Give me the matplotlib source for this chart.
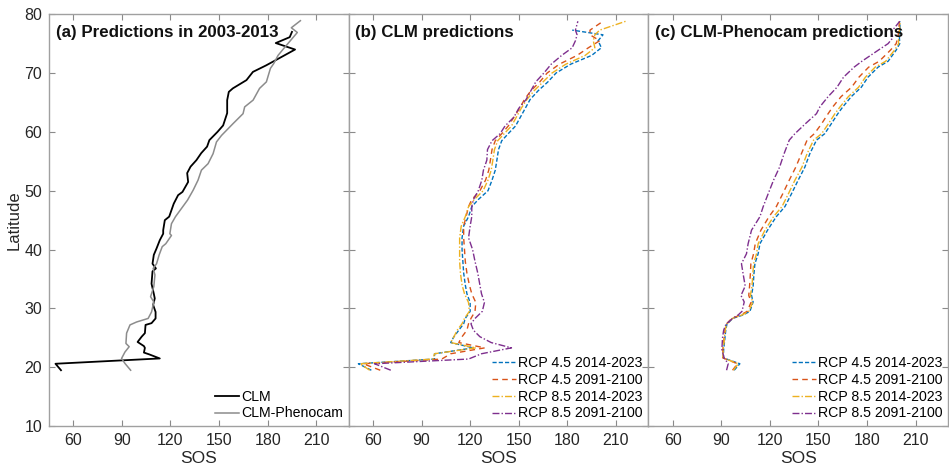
import numpy as np
import matplotlib.pyplot as plt

plt.rcParams['font.family'] = ['Liberation Sans', 'DejaVu Sans']

# (a) 2003-2013
lat_clm = [19.5, 20.6, 21.5, 22.2, 22.5, 23.3, 23.6, 24.05, 24.3, 25.2, 25.8, 27.2, 27.5, 28.3, 29.4,
           30.6, 31.7, 32.5, 34.2, 36.3, 36.8, 37.6, 39.1, 40.2, 41.6, 42.7, 43.3, 45.0, 45.6, 47.8,
           49.25, 49.8, 51.5, 53.0, 54.1, 55.2, 56.4, 57.5, 58.6, 60.0, 61.1, 63.2, 65.4, 66.8, 67.4,
           68.8, 70.2, 71.3, 71.9, 74.0, 75.1, 76.1, 77.0]
sos_clm = [52.4, 49.0, 113.4, 106.8, 103.6, 104.2, 103.6, 101.1, 99.7, 102.2, 104.2, 104.6, 108.3, 110.8, 110.8,
           109.3, 110.3, 109.7, 108.3, 108.9, 111.0, 108.9, 109.7, 111.4, 113.4, 115.5, 115.5, 116.5, 119.2, 122.0,
           124.7, 127.4, 130.9, 130.3, 132.4, 136.0, 139.0, 142.6, 144.0, 149.0, 152.5, 155.0, 155.0, 156.0, 158.5,
           166.9, 170.9, 179.0, 183.0, 196.9, 185.0, 193.6, 195.0]

lat_pheno = [19.5, 20.65, 21.5, 22.6, 23.5, 24.05, 25.8, 27.2, 27.7, 28.3, 29.4, 31.1, 32.0, 33.7, 35.7,
             36.8, 37.6, 39.1, 40.5, 41.0, 42.4, 42.7, 44.4, 45.6, 47.0, 48.4, 50.1, 51.8, 53.5, 54.6,
             56.3, 58.3, 59.4, 61.4, 63.1, 64.25, 65.4, 67.4, 68.5, 70.8, 71.6, 73.0, 74.2, 76.9, 77.7, 78.9]
sos_pheno = [95.4, 91.9, 89.8, 91.9, 94.5, 92.5, 92.9, 95.0, 99.1, 106.2, 108.3, 109.7, 107.7, 109.7, 110.4,
             109.3, 111.4, 113.0, 114.9, 117.1, 120.6, 119.6, 120.6, 123.1, 126.8, 130.5, 134.0, 137.0, 139.1, 143.2,
             146.3, 148.4, 151.5, 158.6, 164.8, 165.8, 171.0, 175.0, 179.2, 181.7, 183.7, 186.4, 190.0, 198.3, 194.6, 200.2]

# (b) CLM predictions
lat_b = [19.5, 20.6, 21.4, 22.3, 23.3, 24.2, 25.2, 26.3, 27.4, 28.3, 29.5, 31.0, 32.5, 34.0, 36.0, 38.0,
         40.0, 42.0, 44.0, 45.6, 47.3, 48.5, 50.0, 51.8, 53.5, 55.2, 57.0, 58.5, 59.7, 61.0, 62.5, 64.0,
         65.5, 67.0, 68.5, 70.0, 71.5, 73.0, 74.3, 75.5, 76.5, 77.3, 78.8]
b45_early = [59, 51, 98, 98, 122, 108, 110, 113, 116, 117, 120, 120, 118, 117, 116, 115.5,
             115, 115, 116, 119, 121, 125, 131, 133.5, 135.5, 136.5, 137.5, 139.5, 143.5, 148, 151, 154,
             157, 162, 168, 173, 182, 195, 201, 199, 202, 183, np.nan]
b45_late = [64.5, 54, 102.5, 108, 129, 113, 115, 118, 119, 120.5, 123, 123.5, 121, 119.5, 118, 117,
            116.5, 116, 116, 117.5, 119, 121, 126, 129.5, 131.5, 132.5, 133.5, 135.5, 139.5, 143.5, 147, 150.5,
            153.5, 157.5, 163, 167.5, 175, 186, 193, 200, 194, 194, 202]
b85_early = [58, 52, 97, 98, 123.5, 108, 110, 112, 115, 116.5, 119.5, 119, 116.5, 115, 114, 113.5,
             113.5, 113.5, 114.5, 117, 119, 122.5, 128, 131, 133, 134, 135, 137, 141, 145.5, 148.5, 151.5,
             155, 159.5, 165, 170.5, 179, 191, 197, 196, 197, 200, 216]
b85_late = [71, 61, 119, 127, 145.5, 133, 126, 122, 120.5, 123, 127.5, 128.8, 127, 126, 124.7, 123,
            121.5, 119, 120, 121, 121, 122, 125, 127.2, 128.2, 130.3, 130.7, 133.5, 138.5, 141.5, 147, 150,
            154.5, 157.5, 160.5, 165.5, 170, 176.5, 183, 185, 186, 185, 186.5]

# (c) CLM-Phenocam predictions
lat_c = [19.5, 20.6, 21.6, 23.0, 25.0, 26.3, 27.3, 28.3, 28.9, 29.5, 31.1, 32.2, 33.8, 35.9, 37.6, 39.3,
         41.0, 43.3, 45.6, 47.3, 49.5, 51.8, 54.0, 56.3, 58.6, 59.7, 61.4, 63.1, 64.3, 66.0, 67.6, 69.3,
         71.0, 72.0, 73.9, 75.0, 76.0, 77.0, 78.8]
c45_early = [98, 101.5, 91.3, 91.5, 92.3, 92.8, 93.5, 97, 103.6, 107.7, 109.7, 108.7, 109.7, 110.2, 110.8, 112.8,
             113.9, 118.6, 124, 129.3, 133.4, 137.5, 141.6, 144.7, 148.8, 153.9, 158, 162, 165.2, 170.3, 176.5, 180.6,
             186.8, 193, 198, 200.2, 200, 200.5, 200.2]
c45_late = [97, 100, 91, 91, 91.8, 92.3, 93, 96.5, 102, 106, 108.5, 107, 107.5, 108, 108.3, 110,
            111, 114.5, 119.5, 124, 128, 132, 136, 139.5, 143, 147.5, 152, 156, 159, 164, 170.5, 175,
            181, 187.5, 194.5, 198, 199, 199.5, 200]
c85_early = [97.5, 100.5, 91, 91.2, 92, 92.5, 93.2, 96.8, 103, 107, 109.5, 108, 109, 109.5, 110, 111.8,
             112.8, 117, 122.3, 127.5, 131.5, 135.5, 139.8, 143, 147, 152, 156.2, 160.2, 163.5, 168.5, 174.8, 179,
             185, 191.5, 197, 199.5, 199.5, 200, 200.5]
c85_late = [93.3, 94.3, 91.8, 90.4, 90.8, 91.5, 92.9, 97, 100.5, 102.8, 104.2, 102.2, 104.8, 103.5, 102.5, 105.6,
            106.6, 108.7, 113.9, 115.9, 119, 122.3, 126, 128.8, 132, 135.5, 142, 148.8, 151, 156, 161.5, 165.5,
            172, 176.8, 187, 193, 196, 195, 200.2]

labels = ['RCP 4.5 2014-2023', 'RCP 4.5 2091-2100', 'RCP 8.5 2014-2023', 'RCP 8.5 2091-2100']
colors = ['#0072BD', '#D95319', '#EDB120', '#7E2F8E']
styles = [(0, (3, 1.5)), (0, (4, 3)), (0, (5, 1.5, 1, 1.5)), (0, (5, 1.5, 1, 1.5))]
titles = ['(a) Predictions in 2003-2013', '(b) CLM predictions', '(c) CLM-Phenocam predictions']

fig = plt.figure(figsize=(9.49, 4.74), dpi=100)
w = (948 - 49) / 949 / 3
axes = [fig.add_axes([49 / 949 + i * w, 0.101, w, 0.869]) for i in range(3)]

ax = axes[0]
ax.plot(sos_clm, lat_clm, color='black', lw=1.3, label='CLM')
ax.plot(sos_pheno, lat_pheno, color='#8c8c8c', lw=1.1, label='CLM-Phenocam')

for ax, lat, series in [(axes[1], lat_b, [b45_early, b45_late, b85_early, b85_late]),
                        (axes[2], lat_c, [c45_early, c45_late, c85_early, c85_late])]:
    for s, lab, c, ls in zip(series, labels, colors, styles):
        ax.plot(s, lat, color=c, ls=ls, lw=1.0, label=lab)

for i, ax in enumerate(axes):
    ax.set_xlim(45, 230)
    ax.set_ylim(10, 80)
    ax.set_xticks(range(60, 211, 30))
    ax.set_yticks(range(10, 81, 10))
    ax.tick_params(direction='in', top=True, right=True, length=4, color='#8a8a8a',
                   labelsize=11.5, labelcolor='#262626', pad=5)
    for sp in ax.spines.values():
        sp.set_color('#a0a0a0')
        sp.set_linewidth(1.0)
    ax.set_xlabel('SOS', fontsize=12.5, color='#262626', labelpad=2)
    ax.text(0.022, 0.975, titles[i], transform=ax.transAxes, va='top', ha='left',
            fontsize=12.2, fontweight='bold', color='#111111')
    if i > 0:
        ax.set_yticklabels([])
    ax.legend(loc='lower right', frameon=False, fontsize=10.2, handlelength=1.7,
              handletextpad=0.15, labelspacing=0.2, borderaxespad=0.3, borderpad=0.1)

axes[0].set_ylabel('Latitude', fontsize=12, color='#262626', labelpad=2)

fig.savefig('out.png', dpi=100)
